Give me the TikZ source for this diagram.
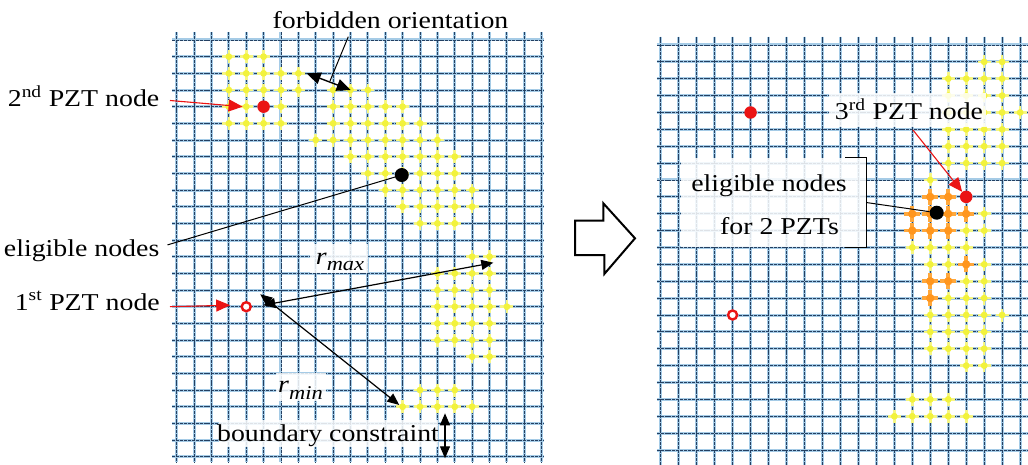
\documentclass[tikz,border=0pt]{standalone}
\usepackage{fontspec}
\setmainfont{Liberation Serif}
\usetikzlibrary{arrows.meta}
\definecolor{gridlight}{RGB}{165,203,230}
\definecolor{griddark}{RGB}{36,64,98}
\definecolor{ylwcore}{RGB}{242,242,60}
\definecolor{ylwarm}{RGB}{246,246,130}
\definecolor{orgcore}{RGB}{255,150,30}
\definecolor{orgarm}{RGB}{255,168,60}
\definecolor{pztred}{RGB}{235,20,20}
\newcommand{\sx}[1]{\scalebox{1.15}[1]{#1}}
\newcommand{\rsub}[1]{\textit{r}\raisebox{-0.28em}{\fontsize{19.5}{20}\selectfont\textit{#1}}}
\newcommand{\ydots}[2]{\foreach \c in {#2}{%
  \draw[ylwx] ([xshift=-6.5pt]\c,#1) -- ([xshift=6.5pt]\c,#1);
  \draw[ylwx] ([yshift=-6.5pt]\c,#1) -- ([yshift=6.5pt]\c,#1);
  \fill[ylwcore] (\c,#1) circle (3.4pt);}}
\newcommand{\odots}[2]{\foreach \c in {#2}{%
  \draw[orgx] ([xshift=-8pt]\c,#1) -- ([xshift=8pt]\c,#1);
  \draw[orgx] ([yshift=-8pt]\c,#1) -- ([yshift=8pt]\c,#1);
  \fill[orgcore] (\c,#1) circle (4.2pt);}}
\tikzset{
  halo/.style={line width=3pt, draw=gridlight},
  gline/.style={line width=0.95pt, draw=griddark, dash pattern=on 3pt off 0.9pt},
  ylwx/.style={line width=2.6pt, draw=ylwarm},
  orgx/.style={line width=3.6pt, draw=orgarm},
  lbl/.style={font=\fontsize{24.2}{28}\selectfont, inner sep=0pt},
  wbox/.style={fill=white, fill opacity=0.85, draw=none, inner sep=0pt},
  reddot/.style={circle, fill=pztred, inner sep=0pt, minimum size=12.5pt},
  blackdot/.style={circle, fill=black, inner sep=0pt, minimum size=14pt},
  opendot/.style={circle, draw=pztred, line width=2.4pt, fill=white, inner sep=0pt, minimum size=9pt},
  redarr/.style={draw=pztred, line width=1.1pt, -{Triangle[length=14pt,width=12pt]}},
  dblarr/.style={draw=black, line width=1.2pt, {Triangle[length=12pt,width=10pt]}-{Triangle[length=12pt,width=10pt]}},
  bigdbl/.style={draw=black, line width=1.4pt, {Triangle[length=14pt,width=12pt]}-{Triangle[length=14pt,width=12pt]}},
  pointer/.style={draw=black, line width=1pt},
}
\begin{document}
\begin{tikzpicture}[x=1pt,y=-1pt]
\useasboundingbox (0,0) rectangle (1028,465);
\fill[white] (0,0) rectangle (1028,465);

% ---------------- left grid ----------------
\begin{scope}[shift={(176.7pt,-40pt)}, x=17.38pt, y=-16.67pt]
  \foreach \i in {0,...,21} \draw[halo] (\i,-0.45) -- (\i,25.3);
  \foreach \j in {0,...,25} \draw[halo] (-0.25,\j) -- (21.15,\j);
  \foreach \i in {0,...,21} \draw[gline] (\i,-0.45) -- (\i,25.3);
  \foreach \j in {0,...,25} \draw[gline] (-0.25,\j) -- (21.15,\j);
  \ydots{1}{3,4,5}
  \ydots{2}{3,4,5,6,7}
  \ydots{3}{3,4,5,6,7,9,10,11}
  \ydots{4}{3,4,6,9,10,11,12,13}
  \ydots{5}{3,4,5,6,9,10,11,12,13,14}
  \ydots{6}{8,...,15}
  \ydots{7}{10,...,16}
  \ydots{8}{11,...,16}
  \ydots{9}{12,...,17}
  \ydots{10}{13,...,17}
  \ydots{11}{14,15,16}
  \ydots{13}{17,18}
  \ydots{14}{15,16,17,18}
  \ydots{15}{15,16,17,18}
  \ydots{16}{15,...,19}
  \ydots{17}{15,...,18}
  \ydots{18}{15,...,18}
  \ydots{19}{17,18}
  \ydots{21}{14,15,16}
  \ydots{22}{13,...,17}
  \node[reddot] (p2L) at (5,4) {};
  \node[blackdot] (bL) at (12.95,8.1) {};
  \node[opendot] (p1L) at (4,16) {};
\end{scope}

% ---------------- right grid ----------------
\begin{scope}[shift={(660.7pt,-45pt)}, x=17.97pt, y=-16.875pt]
  \foreach \i in {0,...,20} \draw[halo] (\i,-0.5) -- (\i,24.95);
  \foreach \j in {0,...,24} \draw[halo] (-0.22,\j) -- (20.5,\j);
  \foreach \i in {0,...,20} \draw[gline] (\i,-0.5) -- (\i,24.95);
  \foreach \j in {0,...,24} \draw[gline] (-0.22,\j) -- (20.5,\j);
  \ydots{1}{18,19}
  \ydots{2}{16,...,19}
  \ydots{3}{16,...,19}
  \ydots{4}{16,...,20}
  \ydots{5}{16,...,19}
  \ydots{6}{16,...,19}
  \ydots{7}{16,...,19}
  \ydots{8}{15}
  \odots{9}{15,16}
  \odots{10}{14,15,16,17}
  \ydots{10}{18}
  \odots{11}{14,15,16}
  \ydots{11}{17,18}
  \ydots{12}{14,15,16,17}
  \ydots{13}{15,16,18}
  \odots{13}{17}
  \odots{14}{15,16}
  \ydots{14}{17,18}
  \odots{15}{15}
  \ydots{15}{16,17,18}
  \ydots{16}{15,...,19}
  \ydots{17}{15,...,18}
  \ydots{18}{15,...,18}
  \ydots{19}{17,18}
  \ydots{21}{14,15,16}
  \ydots{22}{13,...,17}
  \node[reddot] (p2R) at (5,4) {};
  \node[opendot] (p1R) at (4,16) {};
  \node[reddot] (p3R) at (17,9) {};
  \node[blackdot] (bR) at (15.36,9.94) {};
\end{scope}

% ---------------- left labels ----------------
\node[lbl, anchor=base east] (t2L) at (159.5,106.7) {\sx{2\textsuperscript{nd} PZT node}};
\node[lbl, anchor=base east] (elL) at (159.5,256.7) {\sx{eligible nodes}};
\node[lbl, anchor=base east] (t1L) at (160,310) {\sx{1\textsuperscript{st} PZT node}};
\draw[redarr] (170,100.5) -- ([xshift=-21pt]p2L.center);
\draw[redarr] (170,306.7) -- ([xshift=-16pt,yshift=1.5pt]p1L.center);
\draw[pointer] (elL.east) ++(8,-6) -- (bL);

\node[lbl, anchor=base] (fo) at (390.5,28.3) {\sx{forbidden orientation}};
\coordinate (fo1) at (306.7,73.3);
\coordinate (fo2) at (350.7,90);
\coordinate (fom) at (330,81);
\draw[bigdbl] (fo1) -- (fo2);
\draw[pointer] (348.3,36.7) -- (fom);

\node[wbox, minimum width=58pt, minimum height=28pt] (rmaxbox) at (339,258.5) {};
\node[lbl, anchor=base] (rmax) at (340,264) {\sx{\rsub{max}}};
\coordinate (rmaxEnd) at (493.3,262.7);
\draw[dblarr] ([xshift=17pt,yshift=1.5pt]p1L.center) -- (rmaxEnd);

\node[wbox, minimum width=50pt, minimum height=28pt] (rminbox) at (300.5,387) {};
\node[lbl, anchor=base] (rmin) at (300.5,392.5) {\sx{\rsub{min}}};
\coordinate (rminEnd) at (399.3,405);
\draw[dblarr] ([xshift=14pt,yshift=12.5pt]p1L.center) -- (rminEnd);

\node[wbox, minimum width=219pt, minimum height=27pt] (bcbox) at (328.3,433.3) {};
\node[lbl, anchor=base] (bc) at (328,441.7) {\sx{boundary constraint}};
\coordinate (bc1) at (445,413.3);
\coordinate (bc2) at (445,458.3);
\draw[dblarr] (bc1) -- (bc2);

% ---------------- big hollow arrow ----------------
\draw[line width=2pt, line join=miter] (575,220.7) -- (603.3,220.7) -- (603.3,203.3) -- (635,238.3) -- (604.3,274) -- (604.3,255) -- (575,255) -- cycle;

% ---------------- right labels ----------------
\node[wbox, minimum width=157pt, minimum height=34pt] (t3box) at (907.5,110) {};
\node[lbl, anchor=base] (t3R) at (909,120) {\sx{3\textsuperscript{rd} PZT node}};
\draw[redarr] (913,130) -- (p3R);

\node[wbox, minimum width=185pt, minimum height=89pt] (eb) at (773.5,202.5) {};
\node[lbl, anchor=base] (elR1) at (769,191.7) {\sx{eligible nodes}};
\node[lbl, anchor=base] (elR2) at (779.5,235) {\sx{for 2 PZTs}};
\draw[pointer] ([xshift=-21pt]eb.north east) -- (eb.north east) -- (eb.south east) -- ([xshift=-21pt]eb.south east);
\draw[pointer] (eb.east) -- (bR);
\end{tikzpicture}
\end{document}
